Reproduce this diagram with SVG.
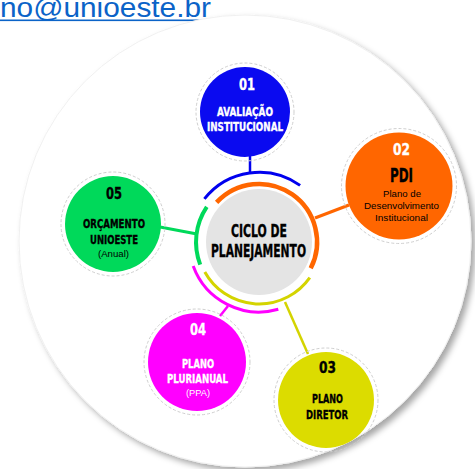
<svg xmlns="http://www.w3.org/2000/svg" width="475" height="469" viewBox="0 0 475 469">
<defs>
<filter id="sh" x="-10%" y="-10%" width="125%" height="125%">
<feDropShadow dx="4" dy="4" stdDeviation="3" flood-color="#000" flood-opacity="0.35"/>
</filter>
<style>
.hd{font-family:"DejaVu Sans",sans-serif;font-weight:bold;font-stretch:condensed;text-anchor:middle;stroke-width:0.35}
.rg{font-family:"Liberation Sans",Arial,sans-serif;text-anchor:middle}
.ring{fill:none;stroke:#cfcfcf;stroke-width:1;stroke-dasharray:3 2}
.arc{fill:none;stroke-linecap:butt}
.w{fill:#fff}.k{fill:#000}
.hd.w{stroke:#fff}.hd.k{stroke:#000}
</style>
</defs>
<rect width="475" height="469" fill="#fff"/>
<text x="0" y="17" font-family="Liberation Sans,Arial,sans-serif" font-size="27" fill="#0b63c8" textLength="211" lengthAdjust="spacingAndGlyphs">no@unioeste.br</text>
<rect x="0" y="19.5" width="212" height="1.6" fill="#0b63c8"/>
<circle cx="245" cy="241" r="226" fill="#fff" stroke="#f0f0f0" stroke-width="1" filter="url(#sh)"/>
<g id="connectors">
<line x1="250" y1="156" x2="250" y2="173" stroke="#0000ee" stroke-width="2.5"/>
<line x1="315" y1="218" x2="349" y2="205" stroke="#ff6600" stroke-width="3"/>
<line x1="160" y1="227" x2="197" y2="234" stroke="#00d95a" stroke-width="3"/>
<line x1="220" y1="316" x2="228" y2="306" stroke="#ff00ff" stroke-width="2.5"/>
<line x1="285" y1="302" x2="308" y2="354" stroke="#d4d400" stroke-width="2.5"/>
<path class="arc" d="M204.4 198.9 A70 70 0 0 1 300.1 185.4" stroke="#0000ee" stroke-width="3"/>
<path class="arc" d="M216.6 202.4 A58 58 0 0 1 310.7 268.3" stroke="#ff6600" stroke-width="4.5"/>
<path class="arc" d="M206.8 206.8 A63 63 0 0 0 200.2 264.6" stroke="#00d95a" stroke-width="4"/>
<path class="arc" d="M193.2 266.0 A70 70 0 0 0 278.3 309.3" stroke="#ff00ff" stroke-width="3"/>
<path class="arc" d="M204.8 272.0 A62 62 0 0 0 309.8 277.6" stroke="#d4d400" stroke-width="3"/>
</g>
<g id="center">
<circle cx="259" cy="242" r="53" fill="#e4e4e4"/>
<text class="hd k" x="259" y="237" font-size="17.5" textLength="56" lengthAdjust="spacingAndGlyphs">CICLO DE</text>
<text class="hd k" x="258.5" y="257" font-size="17.5" textLength="95" lengthAdjust="spacingAndGlyphs">PLANEJAMENTO</text>
</g>
<g id="n01">
<circle class="ring" cx="245" cy="112" r="49"/>
<circle cx="245" cy="112" r="45" fill="#0a0af0"/>
<text class="hd w" x="247" y="90" font-size="16.5" textLength="16" lengthAdjust="spacingAndGlyphs">01</text>
<text class="hd w" x="245" y="116" font-size="12.5" textLength="56" lengthAdjust="spacingAndGlyphs">AVALIAÇÃO</text>
<text class="hd w" x="245" y="131" font-size="12.5" textLength="76" lengthAdjust="spacingAndGlyphs">INSTITUCIONAL</text>
</g>
<g id="n02">
<circle class="ring" cx="399" cy="186" r="57.5"/>
<circle cx="399" cy="186" r="53.5" fill="#ff6600"/>
<text class="hd w" x="401.5" y="155" font-size="16.5" textLength="17" lengthAdjust="spacingAndGlyphs">02</text>
<text class="hd k" x="401.5" y="182" font-size="19.5" textLength="23" lengthAdjust="spacingAndGlyphs">PDI</text>
<text class="rg k" x="402" y="197" font-size="9.5" textLength="38" lengthAdjust="spacingAndGlyphs">Plano de</text>
<text class="rg k" x="401.5" y="209" font-size="9.5" textLength="75" lengthAdjust="spacingAndGlyphs">Desenvolvimento</text>
<text class="rg k" x="401.5" y="221" font-size="9.5" textLength="53" lengthAdjust="spacingAndGlyphs">Institucional</text>
</g>
<g id="n03">
<circle class="ring" cx="326" cy="400" r="52"/>
<circle cx="326" cy="400" r="48" fill="#dcdc00"/>
<text class="hd k" x="327.5" y="373" font-size="16.5" textLength="17" lengthAdjust="spacingAndGlyphs">03</text>
<text class="hd k" x="327.5" y="403" font-size="13" textLength="31" lengthAdjust="spacingAndGlyphs">PLANO</text>
<text class="hd k" x="327" y="419" font-size="13" textLength="42" lengthAdjust="spacingAndGlyphs">DIRETOR</text>
</g>
<g id="n04">
<circle class="ring" cx="197" cy="362" r="53"/>
<circle cx="197" cy="362" r="49" fill="#ff00ff"/>
<text class="hd w" x="198" y="335" font-size="16.5" textLength="16" lengthAdjust="spacingAndGlyphs">04</text>
<text class="hd w" x="198" y="368" font-size="12.5" textLength="32" lengthAdjust="spacingAndGlyphs">PLANO</text>
<text class="hd w" x="197.5" y="383" font-size="12.5" textLength="61" lengthAdjust="spacingAndGlyphs">PLURIANUAL</text>
<text class="rg w" x="198" y="396" font-size="9" textLength="24" lengthAdjust="spacingAndGlyphs">(PPA)</text>
</g>
<g id="n05">
<circle class="ring" cx="113" cy="224" r="52"/>
<circle cx="113" cy="224" r="48" fill="#00d95a"/>
<text class="hd k" x="114" y="199" font-size="16.5" textLength="16" lengthAdjust="spacingAndGlyphs">05</text>
<text class="hd k" x="114" y="228" font-size="13" textLength="62" lengthAdjust="spacingAndGlyphs">ORÇAMENTO</text>
<text class="hd k" x="114" y="244" font-size="13" textLength="48" lengthAdjust="spacingAndGlyphs">UNIOESTE</text>
<text class="rg k" x="113.5" y="257" font-size="9.5" textLength="31" lengthAdjust="spacingAndGlyphs">(Anual)</text>
</g>
</svg>
